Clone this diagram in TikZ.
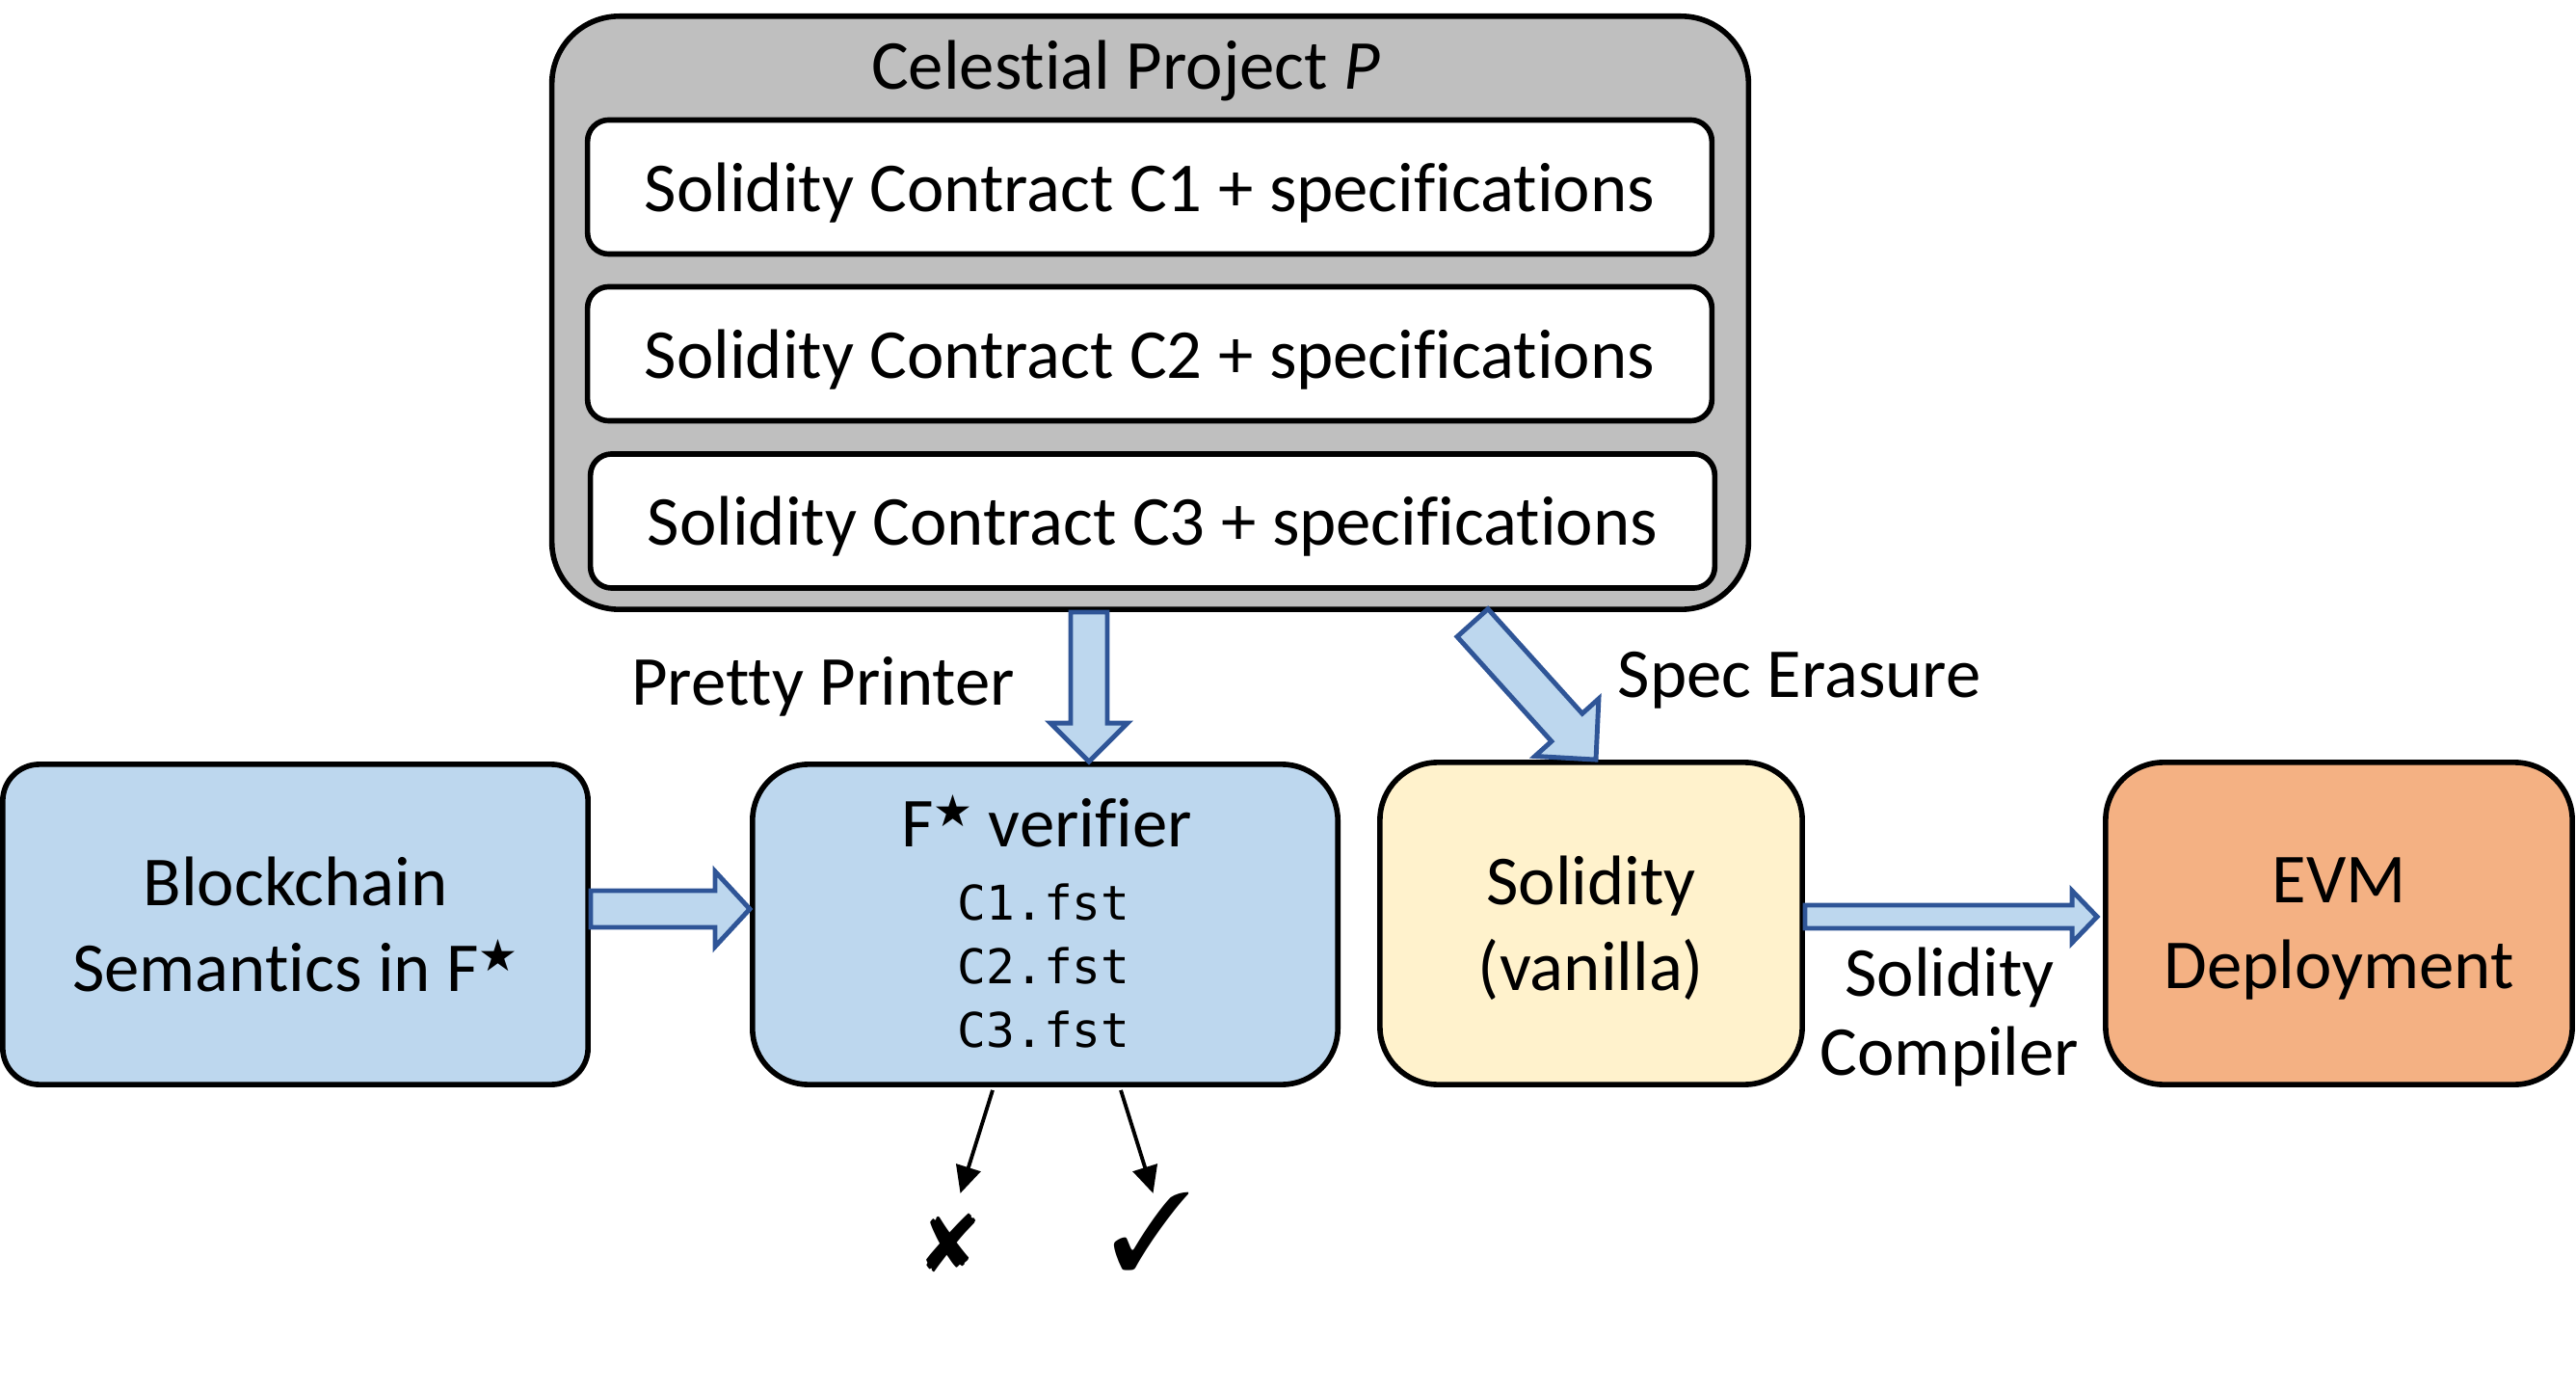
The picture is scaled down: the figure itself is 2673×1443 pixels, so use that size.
\documentclass[tikz,border=0pt]{standalone}
\usepackage{fontspec}
\setmainfont{Carlito}[Ligatures=NoCommon]
\newfontfamily\codefont{DejaVu Sans Mono}
\newfontfamily\starfont{DejaVu Sans}
\usepackage{pifont}
\usetikzlibrary{arrows.meta, calc}

\definecolor{projgray}{HTML}{BFBFBF}
\definecolor{fstarblue}{HTML}{BDD7EE}
\definecolor{solyellow}{HTML}{FFF2CC}
\definecolor{evmorange}{HTML}{F4B183}
\definecolor{arrowedge}{HTML}{2F5597}

\newcommand{\Fstar}{F\raisebox{6pt}{\starfont\fontsize{13}{13}\selectfont ★}}

\tikzstyle{stagebox} = [draw, line width=1.6pt, inner sep=0pt, align=center, text depth=0pt, font=\fontsize{20.7}{25.3}\selectfont]
\tikzstyle{contractbox} = [draw, fill=white, line width=1.6pt, rounded corners=0.22cm, inner sep=0pt, text depth=0pt, minimum width=11.66cm, minimum height=1.39cm, font=\fontsize{20.7}{25.3}\selectfont]
\tikzstyle{steplabel} = [align=center, font=\fontsize{20.7}{25.3}\selectfont]
\tikzstyle{fatarrow} = [draw=arrowedge, fill=fstarblue, line width=1.4pt, line join=miter]
\tikzstyle{resultarrow} = [-{Triangle[length=2.8mm, width=2.6mm]}, line width=1.1pt]

% block arrow: from, to, shaft half width, head half width, head length
\newcommand{\fatarrow}[5]{%
  \coordinate (fa-h) at ($(#2)!#5!(#1)$);
  \filldraw[fatarrow] ($(#1)!#3!90:(#2)$) -- ($(fa-h)!#3!90:(#2)$) -- ($(fa-h)!#4!90:(#2)$)
    -- (#2) -- ($(fa-h)!#4!-90:(#2)$) -- ($(fa-h)!#3!-90:(#2)$) -- ($(#1)!#3!-90:(#2)$) -- cycle;
}

\begin{document}
\begin{tikzpicture}[x=0.01cm, y=-0.01cm]
  \useasboundingbox (0,0) rectangle (2673,1443);

  % project and its contracts
  \node[stagebox, fill=projgray, rounded corners=0.7cm, minimum width=12.41cm, minimum height=6.15cm] (project) at (1193.5,324.5) {};
  \node[steplabel] (ptitle) at (1168,73) {Celestial Project \textit{P}};
  \node[contractbox] (c1) at (1193,194) {Solidity Contract C1 + specifications};
  \node[contractbox] (c2) at (1193,367) {Solidity Contract C2 + specifications};
  \node[contractbox] (c3) at (1196,540.5) {Solidity Contract C3 + specifications};

  % pipeline stages
  \node[stagebox, fill=fstarblue, rounded corners=0.38cm, minimum width=6.07cm, minimum height=3.32cm] (blockchain) at (306.5,959) {Blockchain\\Semantics in \Fstar};
  \node[stagebox, fill=fstarblue, rounded corners=0.58cm, minimum width=6.07cm, minimum height=3.32cm] (fverifier) at (1084.5,959) {};
  \node[steplabel] (fvtitle) at (1086,852) {\Fstar\ verifier};
  \node[align=center, font=\codefont\fontsize{14.1}{18.8}\selectfont] (fvfiles) at (1083,1002) {C1.fst\\C2.fst\\C3.fst};
  \node[stagebox, fill=solyellow, rounded corners=0.6cm, minimum width=4.38cm, minimum height=3.34cm] (solidity) at (1651,958) {Solidity\\(vanilla)};
  \node[stagebox, fill=evmorange, rounded corners=0.6cm, minimum width=4.84cm, minimum height=3.34cm] (evm) at (2427,958) {EVM\\Deployment};

  % arrow labels
  \node[steplabel] (pplabel) at (854,712) {Pretty Printer};
  \node[steplabel] (selabel) at (1867,706) {Spec Erasure};
  \node[steplabel, font=\fontsize{20.7}{23.3}\selectfont] (sclabel) at (2023,1055) {Solidity\\Compiler};

  % verdicts
  \node[font=\fontsize{24}{24}\selectfont] (cross) at (987,1289) {\ding{56}};
  \node[font=\fontsize{32}{32}\selectfont] (check) at (1195,1277) {\ding{51}};

  % block arrows
  \coordinate (ppA) at ($(project.south)+(-63.5,0)$);
  \coordinate (ppB) at (ppA |- fverifier.north);
  \fatarrow{ppA}{ppB}{0.19cm}{0.40cm}{0.40cm}
  \coordinate (seB) at ($(solidity.north)+(5,0)$);
  \coordinate (seA) at ($(seB)+(-128,-142)$);
  \fatarrow{seA}{seB}{0.215cm}{0.445cm}{0.45cm}
  \coordinate (bsA) at ($(blockchain.east)+(0,-16)$);
  \coordinate (bsB) at (bsA -| fverifier.west);
  \fatarrow{bsA}{bsB}{0.19cm}{0.39cm}{0.36cm}
  \coordinate (scA) at ($(solidity.east)+(0,-7)$);
  \coordinate (scB) at ($(scA -| evm.west)+(-6,0)$);
  \fatarrow{scA}{scB}{0.12cm}{0.27cm}{0.26cm}

  % verifier outcomes
  \draw[resultarrow] ($(fverifier.south)+(-54.5,3)$) -- ($(fverifier.south)+(-88,110)$);
  \draw[resultarrow] ($(fverifier.south)+(78.5,3)$) -- ($(fverifier.south)+(112,110)$);
\end{tikzpicture}
\end{document}
